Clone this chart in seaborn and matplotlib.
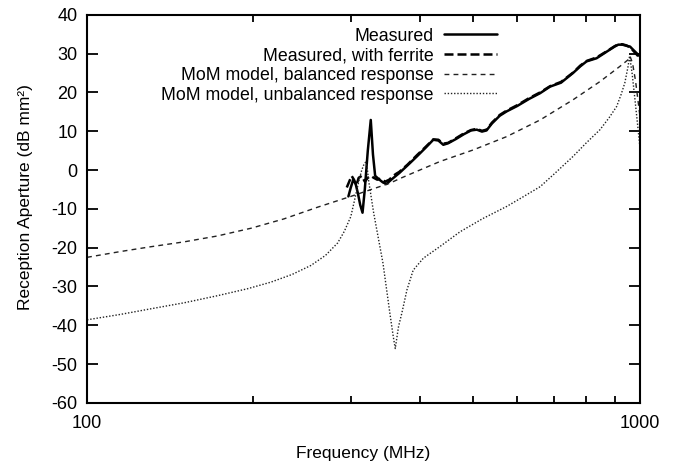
import matplotlib
matplotlib.use("Agg")
import matplotlib.pyplot as plt
import matplotlib.ticker as mticker
import seaborn as sns
import pandas as pd

# Measured (solid)
meas_freq = [297, 300, 303, 306, 309, 312, 315, 318, 322, 326, 329, 332, 335, 338, 343, 348, 355, 362, 367,
             380, 395, 410, 423, 432, 441, 450, 465, 480, 495, 507, 518, 528, 540, 558, 574, 600, 630, 660,
             688, 720, 757, 780, 801, 835, 871, 900, 914, 930, 946, 960, 972, 985, 1000]
meas_db = [-6.8, -4.5, -2.5, -3.5, -6.0, -9.0, -11.0, -5.0, 5.0, 12.9, 4.0, -1.5, -2.0, -2.5, -3.2, -3.6, -2.5, -1.5, -0.8,
           1.2, 3.5, 5.8, 7.8, 7.6, 6.5, 6.9, 8.0, 9.2, 10.2, 10.4, 9.9, 10.2, 12.0, 14.0, 15.1, 16.5, 18.3, 19.8,
           21.5, 22.5, 25.0, 26.7, 28.0, 28.8, 30.5, 31.8, 32.3, 32.3, 32.0, 31.8, 31.0, 30.2, 29.3]

# Measured, with ferrite (thick dashed)
ferr_freq = [295, 298, 301, 304, 307, 310, 314, 318, 322, 326, 330, 335, 340, 346, 352, 358, 363, 367,
             380, 395, 410, 423, 432, 441, 450, 465, 480, 495, 507, 518, 528, 540, 558, 574, 600, 630, 660,
             688, 720, 757, 780, 801, 835, 871, 900, 914, 930, 946, 960, 972, 985, 1000]
ferr_db = [-4.5, -3.0, -1.5, -2.5, -4.0, -2.0, -1.5, -3.0, -2.0, -1.5, -2.0, -2.5, -2.2, -3.0, -2.5, -1.5, -0.9, -0.5,
           1.4, 3.8, 6.0, 7.9, 7.8, 6.8, 7.0, 8.2, 9.4, 10.3, 10.6, 10.1, 10.4, 12.2, 14.2, 15.3, 16.7, 18.5, 20.0,
           21.6, 22.7, 25.1, 26.9, 28.1, 29.0, 30.6, 31.9, 32.4, 32.4, 32.1, 31.6, 30.8, 29.9, 28.8]

# MoM model, balanced response (thin dashed)
bal_freq = [100, 115, 130, 150, 172, 198, 227, 261, 300, 330, 353, 368, 400, 435, 500, 574, 660, 757, 847,
            920, 950, 960, 970, 982, 992, 1000]
bal_db = [-22.5, -21.0, -19.8, -18.5, -17.0, -15.0, -12.6, -9.6, -6.8, -4.8, -3.4, -2.2, 0.0, 2.2, 5.2, 8.6, 12.9,
          18.1, 22.8, 26.7, 28.3, 29.3, 27.5, 23.0, 18.0, 14.0]

# MoM model, unbalanced response (dotted)
unb_freq = [100, 115, 130, 150, 172, 195, 215, 235, 254, 270, 284, 292, 300, 305, 310, 314, 317, 319, 321, 323,
            330, 343, 353, 358, 361, 366, 371, 379, 389, 406, 435, 473, 520, 574, 610, 660, 700, 757, 800, 847,
            880, 908, 925, 939, 952, 958, 968, 980, 990, 1000]
unb_db = [-38.6, -37.2, -35.8, -34.2, -32.4, -30.6, -28.9, -26.9, -24.6, -22.0, -18.8, -15.8, -12.0, -7.5, -3.0, 0.0,
          1.5, 2.0, 1.0, -2.6, -11.1, -24.0, -36.9, -42.9, -46.0, -40.3, -36.9, -30.9, -25.8, -22.7, -19.7, -15.9,
          -12.5, -9.4, -7.2, -4.3, -1.0, 3.5, 7.0, 10.4, 13.5, 16.4, 19.5, 22.4, 26.7, 29.4, 25.0, 18.0, 12.0, 6.0]

labels = ["Measured", "Measured, with ferrite", "MoM model, balanced response", "MoM model, unbalanced response"]

sns.set_theme(style="ticks")
plt.rcParams['font.family'] = ['Liberation Sans', 'DejaVu Sans']
plt.rcParams['axes.unicode_minus'] = False
plt.rcParams['text.color'] = 'black'
plt.rcParams['axes.labelcolor'] = 'black'

fig, ax = plt.subplots(figsize=(6.8, 4.62), dpi=100)
fig.subplots_adjust(left=0.128, right=0.941, bottom=0.128, top=0.968)

series = [
    (meas_freq, meas_db, dict(color="black", linewidth=1.8, linestyle="-")),
    (ferr_freq, ferr_db, dict(color="black", linewidth=1.8, linestyle=(0, (3.6, 1.6)))),
    (bal_freq, bal_db, dict(color="#222222", linewidth=1.0, linestyle=(0, (3.5, 3.0)))),
    (unb_freq, unb_db, dict(color="#222222", linewidth=1.0, linestyle=(0, (1.0, 1.3)))),
]
for (f, d, style), lab in zip(series, labels):
    df = pd.DataFrame({"Frequency": f, "dB": d})
    sns.lineplot(data=df, x="Frequency", y="dB", ax=ax, label=lab, sort=False, **style)

ax.set_xscale("log")
ax.set_xlim(100, 1000)
ax.set_ylim(-60, 40)
ax.set_xticks([100, 1000], labels=["100", "1000"])
ax.xaxis.set_minor_locator(mticker.LogLocator(base=10, subs=range(2, 10)))
ax.xaxis.set_minor_formatter(mticker.NullFormatter())
ax.set_yticks(range(-60, 41, 10))

ax.tick_params(which="both", direction="in", top=True, right=True, colors="black", labelsize=13, width=1.3)
ax.tick_params(which="major", length=8)
ax.tick_params(axis="y", which="major", pad=7)
ax.tick_params(axis="x", which="major", pad=9)
ax.tick_params(which="minor", length=5)
for sp in ax.spines.values():
    sp.set_visible(True)
    sp.set_linewidth(1.5)
    sp.set_color("black")

ax.set_xlabel("Frequency (MHz)", fontsize=12.5, labelpad=10)
ax.set_ylabel("Reception Aperture (dB mm²)", fontsize=12.5)
ax.yaxis.set_label_coords(-0.097, 0.53)

leg = ax.legend(loc="upper right", bbox_to_anchor=(0.755, 0.985), frameon=False, markerfirst=False,
                fontsize=12.8, handlelength=3.0, handletextpad=0.6, labelspacing=0.15, borderaxespad=0)
for t in leg.get_texts():
    t.set_color("black")

fig.savefig("out.png", dpi=100)
